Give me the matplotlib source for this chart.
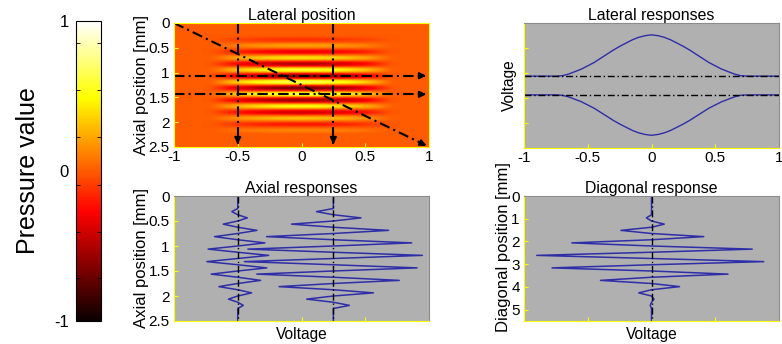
import numpy as np
import matplotlib
matplotlib.use('Agg')
import matplotlib.pyplot as plt
from matplotlib.ticker import FormatStrFormatter

plt.rcParams['font.family'] = ['Liberation Sans', 'DejaVu Sans']
plt.rcParams['font.size'] = 11
plt.rcParams['axes.titlesize'] = 11.4
plt.rcParams['axes.labelsize'] = 12
plt.rcParams['axes.unicode_minus'] = False

# lateral positions (-1 .. 1) and lateral beam envelope
lateral_x = np.linspace(-1, 1, 41)
lateral_env = [0, 0, 0, 0, 0,
               0.0, 0.01, 0.05, 0.11, 0.17, 0.25, 0.33, 0.43, 0.53, 0.63,
               0.72, 0.80, 0.88, 0.94, 0.98,
               1.0,
               0.98, 0.94, 0.88, 0.80, 0.72,
               0.63, 0.53, 0.43, 0.33, 0.25, 0.17, 0.11, 0.05, 0.01, 0.0,
               0, 0, 0, 0, 0]

# lateral envelope as seen in the pressure image
image_env = [0, 0, 0, 0, 0,
             0.0, 0.08, 0.2, 0.33, 0.45, 0.55, 0.63, 0.7, 0.77, 0.83,
             0.88, 0.92, 0.96, 0.98, 1.0,
             1.0,
             1.0, 0.98, 0.96, 0.92, 0.88,
             0.83, 0.77, 0.7, 0.63, 0.55, 0.45, 0.33, 0.2, 0.08, 0.0,
             0, 0, 0, 0, 0]

# axial positions [mm] and axial pressure profile (peaks and zero crossings)
depth = np.linspace(0, 2.5, 41)
depth_profile = [0, 0, 0, 0, 0,
                 -0.19, 0, 0.31, 0, -0.47, 0, 0.62, 0, -0.75, 0, 0.88, 0,
                 -0.96, 0, 1.0, 0, -1.0, 0, 0.94, 0, -0.86, 0, 0.74, 0,
                 -0.61, 0, 0.45, 0, -0.30, 0, 0.18,
                 0, 0, 0, 0, 0]

# diagonal positions [mm] and diagonal response
diag_pos = np.linspace(0, 5.5, 41)
diag_resp = [0, 0, 0, 0, 0, 0, 0,
             -0.04, 0, 0.10, 0, -0.24, 0, 0.41, 0, -0.625, 0, 0.79, 0,
             -0.90, 0, 0.88, 0, -0.78, 0, 0.60, 0, -0.40, 0, 0.22, 0,
             -0.10, 0, 0.02, 0, -0.01,
             0, 0, 0, 0, 0]

axial_cols = [10, 25]     # lateral samples used for the axial responses (-0.5, 0.25)
lateral_rows = [17, 23]   # depth samples used for the lateral responses
axial_gain = 0.97
lateral_gain = 0.86

cbar_minor = [0.853, 0.54, 0.227, -0.093, -0.407, -0.713]

env = np.array(lateral_env)
prof = np.array(depth_profile)
field = np.outer(prof, image_env)

gray = '#b0b0b0'
blue = '#2e2ea8'
yellow = '#ffff00'
dashdot = (0, (5, 2, 1, 2))

fig = plt.figure(figsize=(7.82, 3.44), dpi=100)
W, H = 782, 344


def px_axes(x0, y0, x1, y1):
    return fig.add_axes([x0 / W, 1 - y1 / H, (x1 - x0) / W, (y1 - y0) / H])


def style(ax, gray_bg=True):
    ax.tick_params(direction='in', color=yellow, length=3, pad=2)
    ax.tick_params(axis='y', pad=3)
    for side in ['left', 'bottom']:
        ax.spines[side].set_color(yellow)
    for side in ['top', 'right']:
        ax.spines[side].set_color('#8c8c8c' if gray_bg else yellow)
    if gray_bg:
        ax.set_facecolor(gray)


ax1 = px_axes(174, 23, 429, 147)
ax2 = px_axes(524, 23, 779, 148)
ax3 = px_axes(174, 196, 429, 321)
ax4 = px_axes(524, 196, 779, 321)
cax = px_axes(76, 21, 101, 321)

# pressure field
im = ax1.imshow(field, cmap='hot', vmin=-1, vmax=1, aspect='auto',
                extent=[-1, 1, 2.5, 0], interpolation='bicubic')
style(ax1, gray_bg=False)
arrow = dict(arrowstyle='-|>', color='k', lw=1.5, mutation_scale=9)
for c in axial_cols:
    ax1.plot([lateral_x[c]] * 2, [0, 2.45], color='k', lw=1.5, ls=dashdot)
    ax1.annotate('', xy=(lateral_x[c], 2.5), xytext=(lateral_x[c], 2.3), arrowprops=arrow)
for r in lateral_rows:
    ax1.plot([-1, 0.97], [depth[r]] * 2, color='k', lw=1.5, ls=dashdot)
    ax1.annotate('', xy=(1, depth[r]), xytext=(0.9, depth[r]), arrowprops=arrow)
ax1.plot([-1, 0.97], [0, 2.46], color='k', lw=1.5, ls=dashdot)
ax1.annotate('', xy=(1, 2.5), xytext=(0.92, 2.4), arrowprops=arrow)
ax1.set_xlim(-1, 1)
ax1.set_ylim(2.5, 0)
ax1.set_xticks([-1, -0.5, 0, 0.5, 1])
ax1.set_yticks([0, 0.5, 1, 1.5, 2, 2.5])
ax1.xaxis.set_major_formatter(FormatStrFormatter('%g'))
ax1.yaxis.set_major_formatter(FormatStrFormatter('%g'))
ax1.set_title('Lateral position', pad=1.5)
ax1.set_ylabel('Axial position [mm]', labelpad=0)

# lateral responses
style(ax2)
for r in lateral_rows:
    ax2.plot(lateral_x, depth[r] + lateral_gain * prof[r] * env, color=blue, lw=1)
    ax2.plot([-1, 1], [depth[r]] * 2, color='k', lw=1, ls=dashdot)
ax2.set_xlim(-1, 1)
ax2.set_ylim(2.5, 0)
ax2.set_xticks([-1, -0.5, 0, 0.5, 1])
ax2.xaxis.set_major_formatter(FormatStrFormatter('%g'))
ax2.set_yticks([0, 0.5, 1, 1.5, 2, 2.5])
ax2.set_yticklabels([])
ax2.set_title('Lateral responses', pad=1.5)
ax2.set_ylabel('Voltage', labelpad=2, fontsize=11.2)

# axial responses
style(ax3)
for c in axial_cols:
    ax3.plot(lateral_x[c] + axial_gain * env[c] * prof, depth, color=blue, lw=1.1)
    ax3.plot([lateral_x[c]] * 2, [0, 2.5], color='k', lw=1, ls=dashdot)
ax3.set_xlim(-1, 1)
ax3.set_ylim(2.5, 0)
ax3.set_xticks([-1, -0.5, 0, 0.5, 1])
ax3.set_xticklabels([])
ax3.set_yticks([0, 0.5, 1, 1.5, 2, 2.5])
ax3.yaxis.set_major_formatter(FormatStrFormatter('%g'))
ax3.set_title('Axial responses', pad=1.5)
ax3.set_ylabel('Axial position [mm]', labelpad=0)
ax3.set_xlabel('Voltage', labelpad=2, fontsize=11.2)

# diagonal response
style(ax4)
ax4.plot(diag_resp, diag_pos, color=blue, lw=1.1)
ax4.plot([0, 0], [0, 5.5], color='k', lw=1, ls=dashdot)
ax4.set_xlim(-1, 1)
ax4.set_ylim(5.5, 0)
ax4.set_xticks([-1, -0.5, 0, 0.5, 1])
ax4.set_xticklabels([])
ax4.set_yticks([0, 1, 2, 3, 4, 5])
ax4.set_title('Diagonal response', pad=1.5)
ax4.set_ylabel('Diagonal position [mm]', labelpad=0)
ax4.yaxis.label.set_y(0.59)
ax4.set_xlabel('Voltage', labelpad=2, fontsize=11.2)

# colorbar
cb = fig.colorbar(im, cax=cax, ticks=[-1, 0, 1])
cb.outline.set_edgecolor('k')
cb.ax.yaxis.set_ticks_position('both')
cb.ax.yaxis.set_label_position('left')
cb.ax.tick_params(which='major', length=0, labelleft=True, labelright=False, pad=5)
cb.ax.set_yticks(cbar_minor, minor=True)
cb.ax.tick_params(which='minor', direction='in', length=3, left=True, right=True, color='k')
cb.ax.yaxis.set_major_formatter(FormatStrFormatter('%g'))
cb.ax.tick_params(labelsize=12)
cb.set_label('Pressure value', fontsize=18, labelpad=10)

fig.savefig('out.png', dpi=100)
